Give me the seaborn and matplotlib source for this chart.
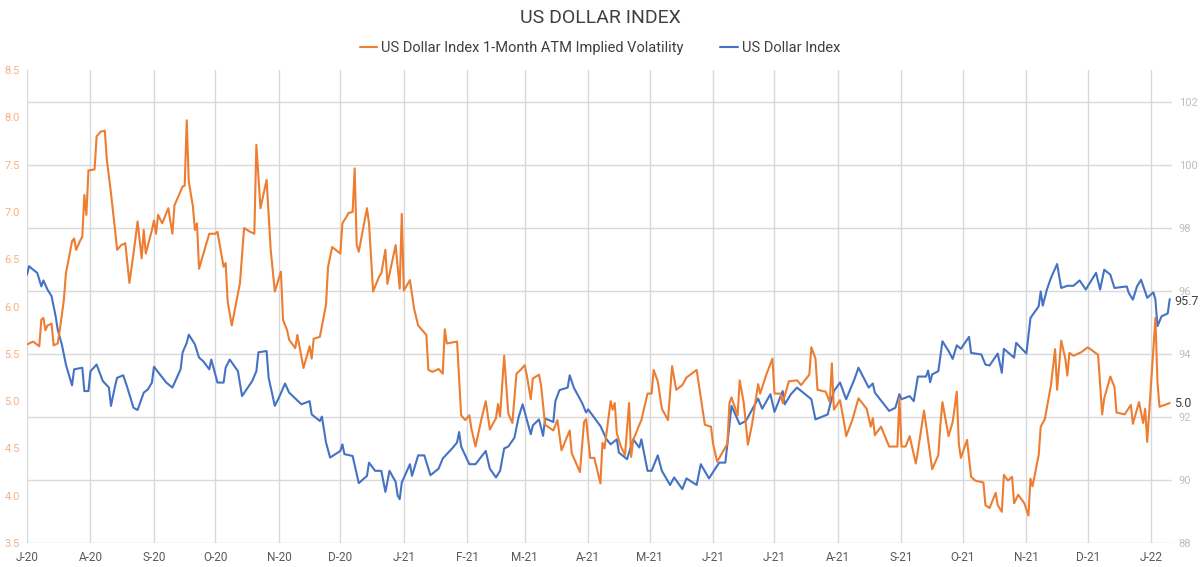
import numpy as np
import pandas as pd
import matplotlib
matplotlib.use("Agg")
import matplotlib.pyplot as plt
import matplotlib.dates as mdates
from matplotlib.ticker import FuncFormatter, MultipleLocator
import seaborn as sns

# days after 2020-07-01 and readings taken off the chart
vol_days = [0, 3, 6, 7, 8, 9, 10, 12, 13, 15, 16, 18, 19, 21, 22, 23, 24, 26, 27, 28,
            29, 30, 33, 34, 36, 38, 39, 41, 43, 44, 46, 48, 50, 52, 54, 56, 57, 58, 61, 62,
            63, 64, 66, 69, 71, 72, 76, 77, 78, 79, 81, 82, 83, 84, 89, 92, 93, 96, 97, 98,
            100, 104, 106, 109, 111, 112, 114, 117, 119, 121, 124, 125, 127, 128, 131, 132, 135, 138, 139, 140,
            143, 146, 147, 149, 153, 154, 156, 157, 159, 160, 161, 162, 166, 167, 169, 172, 173, 175, 176, 180,
            182, 183, 184, 187, 189, 191, 195, 196, 198, 201, 203, 204, 205, 210, 212, 214, 216, 217, 219, 222,
            224, 226, 229, 230, 231, 233, 235, 237, 239, 241, 243, 244, 246, 247, 250, 251, 253, 257, 259, 261,
            265, 266, 270, 272, 273, 275, 277, 280, 281, 282, 285, 286, 287, 288, 290, 292, 294, 295, 296, 299,
            300, 303, 305, 306, 308, 310, 313, 315, 317, 320, 322, 327, 331, 334, 335, 337, 342, 343, 344, 347,
            348, 350, 352, 354, 357, 358, 361, 364, 365, 368, 369, 372, 376, 378, 382, 383, 385, 386, 390, 392,
            393, 394, 397, 399, 400, 403, 406, 410, 412, 413, 414, 417, 421, 425, 426, 427, 429, 431, 434, 435,
            438, 439, 442, 445, 446, 447, 448, 450, 452, 454, 455, 456, 459, 461, 463, 467, 468, 470, 473, 474,
            476, 477, 479, 481, 482, 484, 487, 489, 490, 491, 494, 495, 497, 500, 502, 503, 505, 507, 508, 509,
            511, 513, 515, 518, 523, 525, 526, 529, 531, 532, 536, 539, 540, 543, 545, 546, 547, 551, 552, 553,
            558]
vol_values = [5.60, 5.63, 5.58, 5.86, 5.88, 5.75, 5.80, 5.82, 5.59, 5.61, 5.75, 6.07, 6.35, 6.58, 6.69, 6.72, 6.60, 6.70, 6.74, 7.18,
              6.97, 7.44, 7.45, 7.80, 7.85, 7.86, 7.55, 7.20, 6.81, 6.60, 6.65, 6.67, 6.25, 6.56, 6.90, 6.51, 6.81, 6.56, 6.81, 6.91,
              6.77, 6.97, 6.88, 7.04, 6.77, 7.07, 7.27, 7.28, 7.97, 7.32, 7.06, 6.81, 6.88, 6.40, 6.77, 6.77, 6.79, 6.42, 6.46, 6.05,
              5.80, 6.25, 6.83, 6.79, 6.77, 7.71, 7.04, 7.34, 6.60, 6.16, 6.37, 5.86, 5.75, 5.65, 5.56, 5.70, 5.35, 5.58, 5.45, 5.66,
              5.68, 6.02, 6.42, 6.63, 6.56, 6.88, 6.95, 6.99, 7.00, 7.46, 6.65, 6.58, 7.04, 6.88, 6.16, 6.32, 6.35, 6.60, 6.24, 6.65,
              6.19, 6.98, 6.17, 6.28, 5.98, 5.80, 5.70, 5.33, 5.31, 5.34, 5.29, 5.76, 5.61, 5.63, 4.85, 4.80, 4.85, 4.71, 4.52, 4.82,
              5.00, 4.70, 4.82, 4.97, 4.84, 5.48, 4.87, 4.77, 5.29, 5.33, 5.38, 5.28, 5.02, 5.24, 5.28, 5.17, 4.75, 4.69, 4.80, 4.48,
              4.69, 4.45, 4.25, 4.78, 4.81, 4.40, 4.40, 4.13, 4.56, 4.50, 5.00, 4.91, 4.98, 4.66, 4.52, 4.43, 4.98, 4.41, 4.59, 4.75,
              4.80, 5.08, 5.08, 5.33, 5.21, 4.92, 4.80, 5.37, 5.12, 5.17, 5.25, 5.33, 4.75, 4.73, 4.55, 4.36, 4.55, 4.98, 5.04, 4.85,
              5.22, 4.98, 4.54, 4.75, 5.18, 5.08, 5.28, 5.45, 5.08, 5.08, 4.98, 5.21, 5.22, 5.17, 5.28, 5.57, 5.45, 5.12, 5.10, 4.99,
              5.40, 4.91, 5.01, 4.77, 4.63, 4.80, 5.03, 4.92, 4.73, 4.82, 4.64, 4.73, 4.52, 4.52, 5.03, 4.52, 4.52, 4.63, 4.34, 4.47,
              4.90, 4.75, 4.28, 4.43, 4.75, 4.99, 4.87, 4.63, 4.78, 5.10, 4.55, 4.40, 4.59, 4.20, 4.16, 4.14, 3.90, 3.87, 4.03, 3.90,
              3.83, 4.22, 4.16, 4.20, 3.92, 4.01, 3.92, 3.79, 4.18, 4.10, 4.43, 4.73, 4.81, 5.17, 5.55, 5.12, 5.64, 5.45, 5.27, 5.51,
              5.48, 5.50, 5.52, 5.57, 5.49, 4.86, 5.03, 5.26, 5.15, 4.88, 4.86, 4.96, 4.76, 4.99, 4.77, 4.92, 4.57, 5.88, 5.20, 4.94,
              4.98]

dxy_days = [0, 1, 3, 5, 7, 8, 10, 12, 14, 15, 17, 19, 22, 23, 27, 28, 30, 31, 34, 37,
            40, 41, 43, 44, 47, 49, 52, 54, 57, 59, 61, 62, 68, 71, 75, 76, 78, 79, 82, 84,
            86, 89, 90, 93, 96, 97, 99, 103, 105, 110, 112, 113, 117, 118, 121, 123, 126, 128, 134, 138,
            139, 143, 144, 146, 148, 153, 154, 155, 159, 162, 166, 167, 170, 173, 175, 177, 180, 181, 182, 183,
            187, 188, 191, 194, 197, 201, 203, 208, 210, 211, 212, 216, 219, 224, 226, 229, 231, 233, 235, 238,
            240, 242, 246, 247, 250, 252, 253, 257, 258, 260, 264, 265, 267, 271, 273, 274, 280, 283, 285, 288,
            289, 293, 296, 299, 300, 303, 305, 308, 310, 314, 316, 320, 322, 327, 329, 333, 338, 341, 344, 348,
            351, 357, 359, 363, 365, 369, 370, 373, 376, 383, 385, 391, 392, 394, 397, 400, 404, 406, 411, 413,
            414, 421, 424, 426, 427, 431, 433, 435, 439, 440, 441, 442, 445, 447, 450, 452, 454, 456, 460, 461,
            466, 468, 470, 474, 476, 477, 482, 483, 488, 490, 494, 495, 496, 498, 500, 503, 505, 508, 511, 514,
            517, 522, 524, 526, 529, 531, 537, 538, 540, 542, 544, 547, 550, 551, 552, 554, 557, 558]
dxy_values = [96.51, 96.78, 96.67, 96.57, 96.14, 96.33, 96.04, 95.83, 95.19, 94.77, 94.30, 93.66, 93.00, 93.51, 93.56, 92.82, 92.82, 93.45, 93.66, 93.14,
              92.93, 92.35, 92.98, 93.24, 93.32, 92.93, 92.29, 92.22, 92.77, 92.87, 93.09, 93.59, 93.09, 92.93, 93.51, 94.05, 94.35, 94.61, 94.30, 93.88,
              93.77, 93.51, 93.82, 93.09, 93.09, 93.56, 93.82, 93.45, 92.66, 93.14, 93.45, 94.05, 94.09, 93.24, 92.35, 92.61, 93.06, 92.77, 92.40, 92.50,
              92.08, 91.87, 92.01, 91.19, 90.71, 90.92, 91.13, 90.82, 90.76, 89.90, 90.13, 90.55, 90.29, 90.29, 89.62, 90.29, 89.94, 89.50, 89.39, 89.92,
              90.50, 90.13, 90.78, 90.78, 90.15, 90.36, 90.68, 91.03, 91.19, 91.52, 91.06, 90.50, 90.50, 90.92, 90.36, 90.08, 90.29, 91.00, 91.06, 91.34,
              91.98, 92.40, 91.45, 91.73, 91.92, 91.40, 91.95, 91.84, 92.50, 92.85, 92.93, 93.32, 92.93, 92.45, 92.14, 92.24, 91.71, 91.29, 91.13, 91.29,
              90.87, 90.66, 91.29, 91.03, 91.29, 90.29, 90.29, 90.78, 90.29, 89.84, 90.08, 89.71, 90.05, 89.84, 90.50, 90.05, 90.55, 90.55, 92.35, 91.77,
              91.87, 92.58, 92.26, 92.72, 92.16, 92.82, 92.40, 92.72, 92.93, 92.56, 91.92, 92.08, 92.35, 92.82, 93.09, 92.56, 93.19, 93.56, 92.93, 93.06,
              92.77, 92.19, 92.29, 92.72, 92.56, 92.66, 92.50, 93.28, 93.28, 93.47, 93.10, 93.35, 93.45, 94.40, 94.09, 93.84, 94.27, 94.16, 94.54, 94.03,
              93.98, 93.66, 93.63, 94.01, 93.40, 94.16, 93.88, 94.35, 94.01, 95.14, 95.51, 95.98, 95.53, 96.04, 96.41, 96.85, 96.09, 96.16, 96.16, 96.33,
              96.04, 96.57, 96.04, 96.67, 96.51, 96.09, 96.14, 95.93, 95.72, 96.14, 96.35, 95.78, 95.95, 95.72, 94.88, 95.19, 95.28, 95.74]

start = pd.Timestamp("2020-07-01")
vol = pd.DataFrame({"date": start + pd.to_timedelta(vol_days, unit="D"), "value": vol_values})
dxy = pd.DataFrame({"date": start + pd.to_timedelta(dxy_days, unit="D"), "value": dxy_values})

vol_name = "US Dollar Index 1-Month ATM Implied Volatility"
dxy_name = "US Dollar Index"
orange = "#ED7D31"
blue = "#4472C4"

sns.set_style("white")
plt.rcParams["font.family"] = ["Roboto", "DejaVu Sans"]

fig = plt.figure(figsize=(12, 5.67), dpi=100)
# dollar index on the base axes (right ticks), vol on the twin (left ticks)
ax = fig.add_axes([0.0225, 0.0423, 0.954, 0.834])
ax2 = ax.twinx()

sns.lineplot(data=dxy, x="date", y="value", ax=ax, color=blue, linewidth=1.5, label=dxy_name, legend=False)
sns.lineplot(data=vol, x="date", y="value", ax=ax2, color=orange, linewidth=1.5, label=vol_name, legend=False)

ax.yaxis.tick_right()
ax2.yaxis.tick_left()
ax.set_ylim(88, 103)
ax.yaxis.set_major_locator(MultipleLocator(2))
ax2.set_ylim(3.5, 8.5)
ax2.yaxis.set_major_locator(MultipleLocator(0.5))
ax2.yaxis.set_major_formatter(FuncFormatter(lambda v, p: f"{v:.1f}"))
ax.set_xlim(start, start + pd.Timedelta(days=559))

ax.xaxis.set_major_locator(mdates.MonthLocator())
ax.xaxis.set_major_formatter(FuncFormatter(
    lambda v, p: mdates.num2date(v).strftime("%b")[0] + "-" + mdates.num2date(v).strftime("%y")))

ax.grid(True, color="#D9D9D9", linewidth=1)
ax2.grid(False)
for a in (ax, ax2):
    for s in a.spines.values():
        s.set_visible(False)
    a.set_xlabel("")
    a.set_ylabel("")
    a.tick_params(length=0)

ax.tick_params(axis="x", labelsize=8.5, labelcolor="#595959", pad=6)
ax.tick_params(axis="y", labelsize=8, labelcolor="#BFBFBF", pad=5)
ax2.tick_params(axis="y", labelsize=8, labelcolor="#F4B183", pad=5)

# end-of-series labels
ax.annotate(f"{dxy_values[-1]:.1f}", xy=(dxy["date"].iloc[-1], dxy_values[-1]), xytext=(3, -2),
            textcoords="offset points", va="center", ha="left", fontsize=9, color="#404040")
ax2.annotate(f"{vol_values[-1]:.1f}", xy=(vol["date"].iloc[-1], vol_values[-1]), xytext=(3, 0),
             textcoords="offset points", va="center", ha="left", fontsize=9, color="#404040")

fig.text(0.5, 0.968, "US DOLLAR INDEX", ha="center", va="center", fontsize=14, color="#404040")
handles = ax2.get_lines()[:1] + ax.get_lines()[:1]
fig.legend(handles, [vol_name, dxy_name], loc="center", bbox_to_anchor=(0.5, 0.915), ncol=2,
           frameon=False, fontsize=10.5, handlelength=1.2, handletextpad=0.3, columnspacing=2.5,
           labelcolor="#404040")

fig.savefig("out.png", dpi=100)
